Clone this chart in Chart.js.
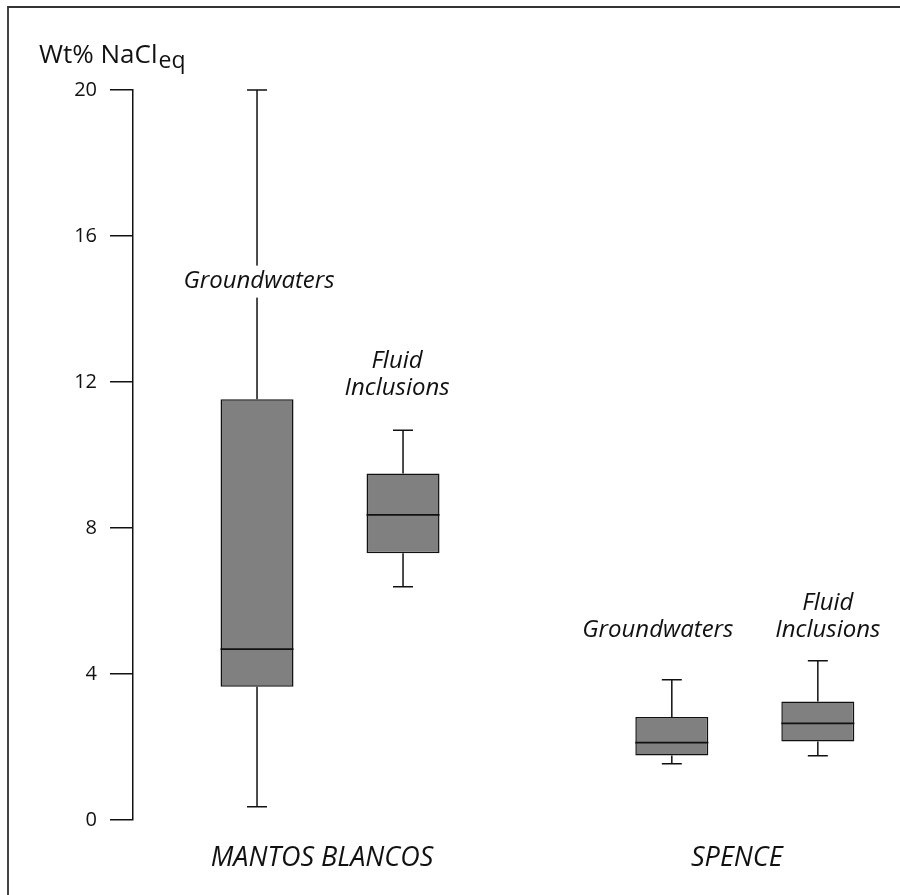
<!DOCTYPE html>
<html>
<head>
<meta charset="utf-8">
<script src="https://cdn.jsdelivr.net/npm/chart.js@4.4.1/dist/chart.umd.min.js"></script>
<style>
  html, body { margin: 0; padding: 0; background: #fff; }
  #wrap { position: relative; width: 900px; height: 895px; overflow: hidden; }
  #frame { position: absolute; left: 7px; top: 6px; width: 920px; height: 920px;
           border-top: 2px solid #333; border-left: 2px solid #444; }
  canvas { position: absolute; left: 0; top: 0; }
</style>
</head>
<body>
<div id="wrap">
  <div id="frame"></div>
  <canvas id="chart" width="900" height="895"></canvas>
</div>
<script>
// Mine sites and sample types
var groups = ['MANTOS BLANCOS', 'SPENCE'];
var series = ['Groundwaters', 'Fluid Inclusions'];

// Wt% NaCl eq, box plot statistics (one value per site)
var gwMin = [0.36, 1.54];
var gwQ1  = [3.65, 1.77];
var gwMed = [4.68, 2.12];
var gwQ3  = [11.53, 2.82];
var gwMax = [20.0, 3.84];

var fiMin = [6.39, 1.76];
var fiQ1  = [7.31, 2.15];
var fiMed = [8.36, 2.65];
var fiQ3  = [9.49, 3.25];
var fiMax = [10.68, 4.36];

var yTicks = [0, 4, 8, 12, 16, 20];

var INK = '#111';
var FONT = "'Open Sans', 'DejaVu Sans', sans-serif";

function boxData(q1, q3) {
    return groups.map(function(g, i) {
        return { x: i + 1, y: [q1[i], q3[i]] };
    });
}

var stats = [
    { min: gwMin, med: gwMed, max: gwMax },
    { min: fiMin, med: fiMed, max: fiMax }
];

// whiskers, medians and the sample labels
var boxPlotPlugin = {
    id: 'boxPlot',
    beforeDatasetsDraw: function(chart) {
        var ctx = chart.ctx;
        var y = chart.scales.y;
        ctx.save();
        ctx.strokeStyle = INK;
        ctx.lineWidth = 1.5;
        chart.data.datasets.forEach(function(ds, di) {
            var meta = chart.getDatasetMeta(di);
            meta.data.forEach(function(bar, i) {
                var s = stats[di];
                var yMin = y.getPixelForValue(s.min[i]);
                var yMax = y.getPixelForValue(s.max[i]);
                var yLo = y.getPixelForValue(ds.data[i].y[0]);
                var yHi = y.getPixelForValue(ds.data[i].y[1]);
                ctx.beginPath();
                ctx.moveTo(bar.x, yHi); ctx.lineTo(bar.x, yMax);
                ctx.moveTo(bar.x - 10, yMax); ctx.lineTo(bar.x + 10, yMax);
                ctx.moveTo(bar.x, yLo); ctx.lineTo(bar.x, yMin);
                ctx.moveTo(bar.x - 10, yMin); ctx.lineTo(bar.x + 10, yMin);
                ctx.stroke();
            });
        });
        ctx.restore();
    },
    afterDatasetsDraw: function(chart, args, opts) {
        var ctx = chart.ctx;
        var y = chart.scales.y;
        ctx.save();
        chart.data.datasets.forEach(function(ds, di) {
            var meta = chart.getDatasetMeta(di);
            meta.data.forEach(function(bar, i) {
                var s = stats[di];
                var ym = y.getPixelForValue(s.med[i]);
                ctx.strokeStyle = INK;
                ctx.lineWidth = 1.8;
                ctx.beginPath();
                ctx.moveTo(bar.x - bar.width / 2, ym);
                ctx.lineTo(bar.x + bar.width / 2, ym);
                ctx.stroke();

                // label over the box
                var lines = ds.label.split(' ');
                var cx = bar.x + opts.labelDx[di][i];
                var cy = y.getPixelForValue(opts.labelAt[di][i]);
                ctx.font = 'italic 24px ' + FONT;
                ctx.textAlign = 'center';
                ctx.textBaseline = 'middle';
                lines.forEach(function(line, li) {
                    var ly = cy - (lines.length - 1 - li) * opts.lineGap;
                    var w = ctx.measureText(line).width;
                    ctx.fillStyle = '#fff';
                    ctx.fillRect(cx - w / 2 - 4, ly - 16, w + 8, 32);
                    ctx.fillStyle = INK;
                    ctx.fillText(line, cx, ly);
                });
            });
        });
        ctx.restore();
    },
    afterDraw: function(chart) {
        var ctx = chart.ctx;
        ctx.save();
        ctx.fillStyle = INK;
        ctx.textAlign = 'left';
        ctx.textBaseline = 'alphabetic';
        ctx.font = '26px ' + FONT;
        ctx.fillText('Wt% NaCl', 39, 63);
        var w = ctx.measureText('Wt% NaCl').width;
        ctx.font = '23px ' + FONT;
        ctx.fillText('eq', 39 + w + 1, 68);
        ctx.restore();
    }
};

new Chart(document.getElementById('chart'), {
    type: 'bar',
    data: {
        datasets: [{
            label: series[0],
            data: boxData(gwQ1, gwQ3),
            backgroundColor: '#808080',
            borderColor: INK,
            borderWidth: 1.5,
            borderSkipped: false
        }, {
            label: series[1],
            data: boxData(fiQ1, fiQ3),
            backgroundColor: '#808080',
            borderColor: INK,
            borderWidth: 1.5,
            borderSkipped: false
        }]
    },
    options: {
        responsive: false,
        animation: false,
        categoryPercentage: 0.704,
        barPercentage: 0.5,
        layout: { padding: { top: 90, right: 10, left: 0, bottom: 0 } },
        plugins: {
            legend: { display: false },
            tooltip: { enabled: false },
            boxPlot: {
                labelAt: [[14.75, 5.2], [11.84, 5.2]],
                labelDx: [[2, -14], [-6, 10]],
                lineGap: 27
            }
        },
        scales: {
            x: {
                type: 'linear',
                offset: false,
                min: 0.525,
                max: 2.35,
                afterBuildTicks: function(scale) {
                    scale.ticks = groups.map(function(g, i) { return { value: i + 1 }; });
                },
                afterFit: function(scale) { scale.height = 75; },
                grid: { display: false },
                border: { display: false },
                ticks: {
                    autoSkip: false,
                    maxRotation: 0,
                    padding: 14,
                    labelOffset: -8,
                    color: INK,
                    font: { family: FONT, size: 27, style: 'italic' },
                    callback: function(v, i) { return groups[i]; }
                }
            },
            y: {
                min: 0,
                max: 20,
                afterBuildTicks: function(scale) {
                    scale.ticks = yTicks.map(function(v) { return { value: v }; });
                },
                afterFit: function(scale) { scale.width = 133; },
                grid: {
                    drawOnChartArea: false,
                    drawTicks: true,
                    tickLength: 23,
                    color: INK,
                    lineWidth: 1.5
                },
                border: { display: true, color: INK, width: 1.5 },
                ticks: {
                    padding: 13,
                    color: INK,
                    font: { family: FONT, size: 20 }
                }
            }
        }
    },
    plugins: [boxPlotPlugin]
});
</script>
</body>
</html>
